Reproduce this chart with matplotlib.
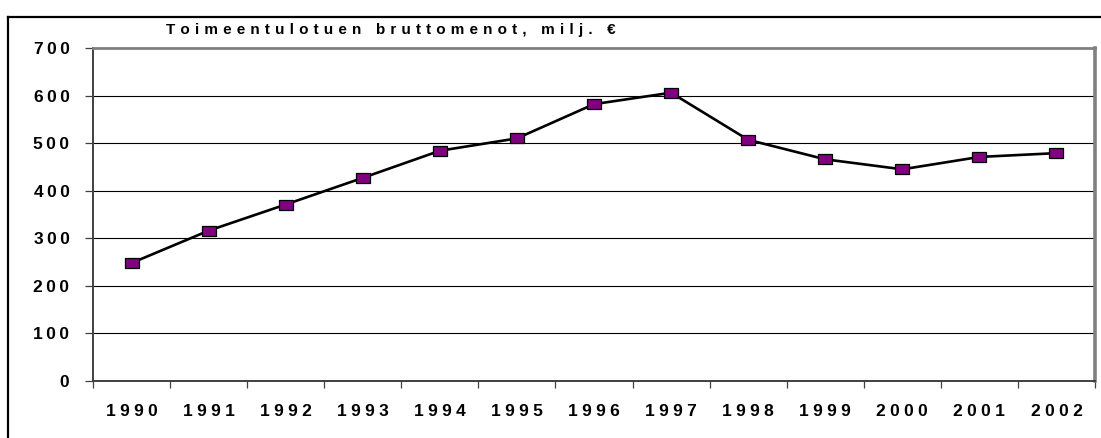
import matplotlib
matplotlib.use('Agg')
import matplotlib.pyplot as plt
from matplotlib.lines import Line2D
import numpy as np

# data
years = ['1990', '1991', '1992', '1993', '1994', '1995', '1996',
         '1997', '1998', '1999', '2000', '2001', '2002']
menot = [248, 316, 371, 427, 484, 510, 582, 606, 507, 466, 445, 471, 479]
y_ticks = [0, 100, 200, 300, 400, 500, 600, 700]
title = 'Toimeentulotuen bruttomenot, milj. €'

FONT = ['Liberation Sans', 'DejaVu Sans']
W, H = 1101, 438


def spaced(s, gap='\u2009'):
    # wide letter spacing as in the original Excel chart
    return gap.join(s)


fig = plt.figure(figsize=(W / 100, H / 100), dpi=100)
fig.patch.set_facecolor('white')

# outer chart frame (only top and left edges are inside the picture)
fig.add_artist(Line2D([8 / W, 8 / W], [0, 1 - 17 / H], transform=fig.transFigure,
                      color='black', lw=1.6))
fig.add_artist(Line2D([8 / W, 1.01], [1 - 17 / H, 1 - 17 / H], transform=fig.transFigure,
                      color='black', lw=1.6))

ax = fig.add_axes([93 / W, 1 - 381 / H, (1095 - 93) / W, (381 - 48) / H])
x = np.arange(len(years))

# gridlines
for v in y_ticks[1:-1]:
    ax.axhline(v, color='black', lw=0.8, zorder=1)

box = [(-1.4, -1), (1.4, -1), (1.4, 1), (-1.4, 1), (-1.4, -1)]
ax.plot(x, menot, color='black', lw=1.9, marker=box, markersize=10,
        markerfacecolor='#800080', markeredgecolor='black', markeredgewidth=0.9,
        zorder=3)

ax.set_xlim(-0.5, len(years) - 0.5)
ax.set_ylim(0, 700)

# category boundaries carry the tick marks, labels sit in the middle
ax.set_xticks(np.arange(-0.5, len(years), 1.0))
ax.set_xticklabels([])
ax.set_xticks(x, minor=True)
ax.set_xticklabels([spaced(y, '\u2005') for y in years], minor=True, fontsize=12.5,
                   fontweight='bold', family=FONT)
ax.tick_params(axis='x', which='major', length=5, width=0.9, color='#404040', direction='out')
ax.tick_params(axis='x', which='minor', length=0, pad=16.5)

ax.set_yticks(y_ticks)
ax.set_yticklabels([spaced(str(v)) for v in y_ticks], fontsize=12.5,
                   fontweight='bold', family=FONT)
ax.tick_params(axis='y', length=6, width=0.9, color='#404040', pad=11)

for side in ['left', 'bottom']:
    ax.spines[side].set_color('#404040')
    ax.spines[side].set_linewidth(1.4)
ax.spines['top'].set_color('#808080')
ax.spines['top'].set_linewidth(2)
ax.spines['right'].set_color('#808080')
ax.spines['right'].set_linewidth(2.6)

fig.text(391 / W, 1 - 34 / H, spaced(title, '\u2004'), ha='center', va='baseline',
         fontsize=11, fontweight='bold', family=FONT)

fig.savefig('out.png', dpi=100)
